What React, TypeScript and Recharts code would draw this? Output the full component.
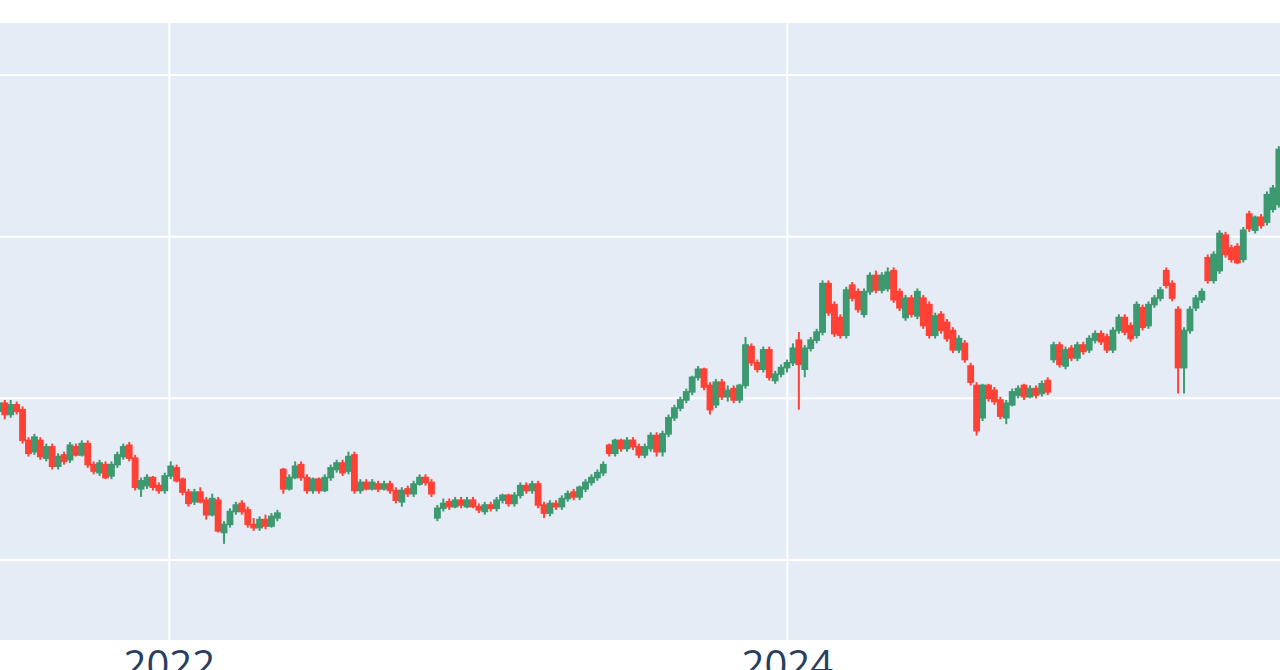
import { BarChart, Bar, XAxis, YAxis, CartesianGrid } from 'recharts'

// weekly candles (Monday of each week)
const dates = [
  // 2021
  '2021-06-14', '2021-06-21', '2021-06-28', '2021-07-05', '2021-07-12', '2021-07-19', '2021-07-26',
  '2021-08-02', '2021-08-09', '2021-08-16', '2021-08-23', '2021-08-30', '2021-09-06', '2021-09-13',
  '2021-09-20', '2021-09-27', '2021-10-04', '2021-10-11', '2021-10-18', '2021-10-25', '2021-11-01',
  '2021-11-08', '2021-11-15', '2021-11-22', '2021-11-29', '2021-12-06', '2021-12-13', '2021-12-20',
  '2021-12-27',
  // 2022
  '2022-01-03', '2022-01-10', '2022-01-17', '2022-01-24', '2022-01-31', '2022-02-07', '2022-02-14',
  '2022-02-21', '2022-02-28', '2022-03-07', '2022-03-14', '2022-03-21', '2022-03-28', '2022-04-04',
  '2022-04-11', '2022-04-18', '2022-04-25', '2022-05-02', '2022-05-09', '2022-05-16', '2022-05-23',
  '2022-05-30', '2022-06-06', '2022-06-13', '2022-06-20', '2022-06-27', '2022-07-04', '2022-07-11',
  '2022-07-18', '2022-07-25', '2022-08-01', '2022-08-08', '2022-08-15', '2022-08-22', '2022-08-29',
  '2022-09-05', '2022-09-12', '2022-09-19', '2022-09-26', '2022-10-03', '2022-10-10', '2022-10-17',
  '2022-10-24', '2022-10-31', '2022-11-07', '2022-11-14', '2022-11-21', '2022-11-28', '2022-12-05',
  '2022-12-12', '2022-12-19', '2022-12-26',
  // 2023
  '2023-01-02', '2023-01-09', '2023-01-16', '2023-01-23', '2023-01-30', '2023-02-06', '2023-02-13',
  '2023-02-20', '2023-02-27', '2023-03-06', '2023-03-13', '2023-03-20', '2023-03-27', '2023-04-03',
  '2023-04-10', '2023-04-17', '2023-04-24', '2023-05-01', '2023-05-08', '2023-05-15', '2023-05-22',
  '2023-05-29', '2023-06-05', '2023-06-12', '2023-06-19', '2023-06-26', '2023-07-03', '2023-07-10',
  '2023-07-17', '2023-07-24', '2023-07-31', '2023-08-07', '2023-08-14', '2023-08-21', '2023-08-28',
  '2023-09-04', '2023-09-11', '2023-09-18', '2023-09-25', '2023-10-02', '2023-10-09', '2023-10-16',
  '2023-10-23', '2023-10-30', '2023-11-06', '2023-11-13', '2023-11-20', '2023-11-27', '2023-12-04',
  '2023-12-11', '2023-12-18', '2023-12-25',
  // 2024
  '2024-01-01', '2024-01-08', '2024-01-15', '2024-01-22', '2024-01-29', '2024-02-05', '2024-02-12',
  '2024-02-19', '2024-02-26', '2024-03-04', '2024-03-11', '2024-03-18', '2024-03-25', '2024-04-01',
  '2024-04-08', '2024-04-15', '2024-04-22', '2024-04-29', '2024-05-06', '2024-05-13', '2024-05-20',
  '2024-05-27', '2024-06-03', '2024-06-10', '2024-06-17', '2024-06-24', '2024-07-01', '2024-07-08',
  '2024-07-15', '2024-07-22', '2024-07-29', '2024-08-05', '2024-08-12', '2024-08-19', '2024-08-26',
  '2024-09-02', '2024-09-09', '2024-09-16', '2024-09-23', '2024-09-30', '2024-10-07', '2024-10-14',
  '2024-10-21', '2024-10-28', '2024-11-04', '2024-11-11', '2024-11-18', '2024-11-25', '2024-12-02',
  '2024-12-09', '2024-12-16', '2024-12-23', '2024-12-30',
  // 2025
  '2025-01-06', '2025-01-13', '2025-01-20', '2025-01-27', '2025-02-03', '2025-02-10', '2025-02-17',
  '2025-02-24', '2025-03-03', '2025-03-10', '2025-03-17', '2025-03-24', '2025-03-31', '2025-04-07',
  '2025-04-14', '2025-04-21', '2025-04-28', '2025-05-05', '2025-05-12', '2025-05-19', '2025-05-26',
  '2025-06-02', '2025-06-09', '2025-06-16', '2025-06-23', '2025-06-30', '2025-07-07', '2025-07-14',
  '2025-07-21', '2025-07-28', '2025-08-04',
]

const open = [
  192, 197, 190, 196, 193, 174, 167, 174, 163, 170,
  158, 165, 162, 170, 165, 172, 159, 154, 159, 152,
  159, 164, 171, 163, 144, 146, 151, 146, 143, 152,
  157, 150, 142, 136, 142, 137, 128, 137, 117, 122,
  130, 135, 131, 122, 120, 125, 121, 126, 156, 144,
  151, 159, 151, 143, 150, 143, 151, 156, 160, 155,
  165, 143, 148, 144, 147, 144, 147, 143, 136, 144,
  141, 147, 151, 148, 126, 132, 136, 133, 137, 133,
  137, 133, 130, 134, 132, 137, 140, 135, 140, 146,
  143, 147, 134, 129, 135, 133, 138, 142, 139, 144,
  148, 151, 154, 171, 166, 174, 169, 174, 170, 165,
  169, 177, 167, 178, 188, 194, 199, 204, 213, 218,
  208, 196, 210, 201, 206, 199, 208, 232, 222, 218,
  230, 211, 215, 219, 222, 236, 218, 231, 236, 241,
  271, 258, 250, 239, 270, 266, 252, 266, 276, 267,
  268, 279, 266, 250, 262, 251, 262, 258, 239, 252,
  247, 242, 230, 234, 220, 208, 188, 208, 205, 199,
  188, 196, 202, 208, 201, 206, 203, 211, 224, 233,
  220, 231, 225, 233, 230, 236, 240, 238, 230, 242,
  250, 245, 239, 256, 245, 258, 262, 279, 271, 255,
  219, 242, 256, 261, 287, 273, 279, 301, 293, 294,
  286, 314, 304, 312, 309, 317, 320,
]

const high = [
  200, 199, 199, 198, 195, 176, 178, 176, 172, 172,
  166, 167, 173, 172, 174, 174, 161, 162, 161, 161,
  167, 172, 173, 165, 151, 153, 152, 148, 154, 161,
  159, 151, 144, 144, 145, 139, 141, 139, 124, 132,
  136, 137, 133, 126, 127, 128, 129, 131, 157, 153,
  161, 161, 153, 151, 151, 153, 159, 162, 162, 167,
  167, 150, 150, 150, 149, 149, 149, 145, 145, 146,
  149, 153, 153, 150, 134, 138, 138, 139, 139, 139,
  139, 135, 136, 136, 139, 141, 141, 142, 148, 148,
  149, 149, 136, 137, 137, 140, 143, 144, 146, 150,
  153, 156, 161, 172, 175, 175, 176, 176, 172, 172,
  179, 179, 180, 190, 196, 201, 206, 214, 220, 219,
  210, 212, 212, 208, 208, 209, 238, 234, 224, 232,
  232, 217, 221, 224, 234, 241, 233, 238, 243, 273,
  273, 260, 252, 269, 272, 268, 268, 278, 279, 278,
  281, 281, 268, 264, 264, 268, 264, 260, 253, 254,
  249, 244, 239, 236, 222, 210, 209, 209, 207, 201,
  199, 206, 208, 209, 208, 208, 211, 213, 235, 235,
  232, 233, 235, 235, 239, 242, 242, 240, 244, 252,
  252, 247, 260, 258, 260, 264, 269, 281, 273, 257,
  244, 257, 264, 268, 289, 291, 304, 303, 295, 296,
  306, 316, 313, 314, 328, 332, 356,
]

const low = [
  189, 187, 188, 190, 172, 164, 165, 162, 161, 156,
  156, 159, 160, 164, 164, 157, 153, 152, 150, 150,
  157, 162, 161, 143, 139, 144, 143, 141, 141, 150,
  148, 140, 133, 134, 135, 125, 127, 117, 110, 120,
  128, 128, 120, 118, 118, 119, 120, 124, 141, 143,
  150, 149, 141, 141, 141, 142, 149, 154, 152, 153,
  141, 141, 143, 143, 142, 143, 141, 135, 133, 139,
  139, 146, 146, 139, 124, 130, 131, 132, 132, 132,
  132, 129, 128, 130, 130, 135, 133, 133, 138, 141,
  141, 132, 126, 127, 131, 131, 136, 137, 137, 142,
  146, 149, 152, 164, 164, 167, 167, 168, 163, 163,
  167, 164, 164, 176, 186, 192, 197, 202, 211, 205,
  190, 194, 199, 198, 197, 197, 206, 220, 216, 216,
  211, 209, 213, 216, 220, 193, 213, 229, 234, 239,
  251, 238, 237, 237, 260, 253, 250, 264, 265, 265,
  266, 259, 254, 248, 250, 249, 243, 237, 237, 240,
  235, 228, 228, 222, 208, 177, 186, 198, 196, 187,
  184, 195, 200, 199, 200, 200, 201, 202, 222, 219,
  218, 223, 223, 227, 228, 234, 233, 228, 228, 240,
  239, 235, 237, 242, 243, 256, 260, 268, 260, 203,
  203, 240, 254, 259, 271, 271, 277, 287, 284, 283,
  284, 303, 302, 305, 307, 315, 318,
]

const close = [
  197, 190, 196, 192, 174, 166, 176, 164, 170, 158,
  164, 161, 171, 165, 172, 159, 155, 160, 151, 159,
  165, 170, 163, 145, 149, 151, 145, 143, 152, 158,
  149, 142, 135, 142, 136, 128, 138, 118, 122, 130,
  134, 130, 122, 120, 125, 121, 127, 129, 144, 151,
  158, 151, 143, 150, 143, 151, 157, 160, 154, 164,
  143, 148, 144, 148, 144, 147, 143, 137, 143, 141,
  147, 151, 148, 141, 132, 135, 133, 137, 134, 137,
  133, 131, 134, 132, 137, 140, 135, 140, 146, 143,
  147, 134, 129, 135, 133, 138, 141, 139, 145, 148,
  151, 154, 159, 166, 174, 169, 174, 170, 165, 170,
  177, 167, 178, 188, 194, 199, 204, 213, 218, 207,
  193, 210, 201, 205, 199, 208, 233, 222, 218, 230,
  213, 215, 219, 222, 231, 221, 231, 236, 241, 271,
  253, 240, 239, 267, 262, 255, 266, 276, 267, 276,
  278, 261, 256, 262, 252, 266, 245, 239, 251, 242,
  237, 230, 237, 224, 210, 180, 208, 200, 198, 189,
  197, 204, 206, 201, 206, 202, 209, 204, 233, 221,
  230, 225, 233, 229, 237, 240, 235, 230, 242, 250,
  241, 237, 258, 244, 258, 262, 267, 270, 262, 219,
  242, 255, 262, 266, 273, 289, 302, 289, 286, 284,
  304, 305, 312, 307, 326, 330, 354,
]

const yearTicks = ['2022-01-01', '2024-01-01']
const priceTicks = [100, 200, 300, 400]
const xRange = ['2021-06-15', '2025-08-05']
const yRange = [50.5, 432.2]

const UP = '#3D9970'
const DOWN = '#FF4136'

const data = dates.map((d, i) => ({
  t: Date.parse(d),
  open: open[i],
  high: high[i],
  low: low[i],
  close: close[i],
  range: [low[i], high[i]],
}))

const Candle = (props: any) => {
  const { x, y, width, height, payload } = props
  if (!payload || height == null) return null
  const top = Math.min(y, y + height)
  const h = Math.abs(height)
  const k = h / (payload.high - payload.low)
  const yOpen = top + (payload.high - payload.open) * k
  const yClose = top + (payload.high - payload.close) * k
  const color = payload.close >= payload.open ? UP : DOWN
  const cx = x + width / 2
  return (
    <g>
      <line x1={cx} x2={cx} y1={top} y2={top + h} stroke={color} strokeWidth={2} />
      <rect
        x={x}
        y={Math.min(yOpen, yClose)}
        width={width}
        height={Math.max(Math.abs(yClose - yOpen), 1.5)}
        fill={color}
        stroke={color}
        strokeWidth={1.5}
      />
    </g>
  )
}

export default function App() {
  return (
    <div
      style={{
        position: 'absolute',
        left: 0,
        top: 0,
        width: 1280,
        height: 670,
        background: '#fff',
        overflow: 'hidden',
      }}
    >
      <BarChart
        width={1280}
        height={670}
        data={data}
        margin={{ top: 23, right: 0, bottom: 0, left: 0 }}
      >
        <CartesianGrid fill='#E5ECF6' stroke='#fff' strokeWidth={2} syncWithTicks />
        <XAxis
          dataKey='t'
          type='number'
          domain={xRange.map((d) => Date.parse(d))}
          ticks={yearTicks.map((d) => Date.parse(d))}
          tickFormatter={(v: number) => String(new Date(v).getUTCFullYear())}
          allowDataOverflow
          axisLine={false}
          tickLine={false}
          tickSize={0}
          tickMargin={11}
          height={30}
          tick={{ fill: '#2a3f5f', fontSize: 40, fontFamily: '"Open Sans", sans-serif' }}
        />
        <YAxis
          type='number'
          domain={yRange}
          ticks={priceTicks}
          allowDataOverflow
          width={0}
          tick={() => <g />}
          axisLine={false}
          tickLine={false}
        />
        <Bar
          dataKey='range'
          barSize={6}
          shape={Candle}
          isAnimationActive={false}
        />
      </BarChart>
    </div>
  )
}
